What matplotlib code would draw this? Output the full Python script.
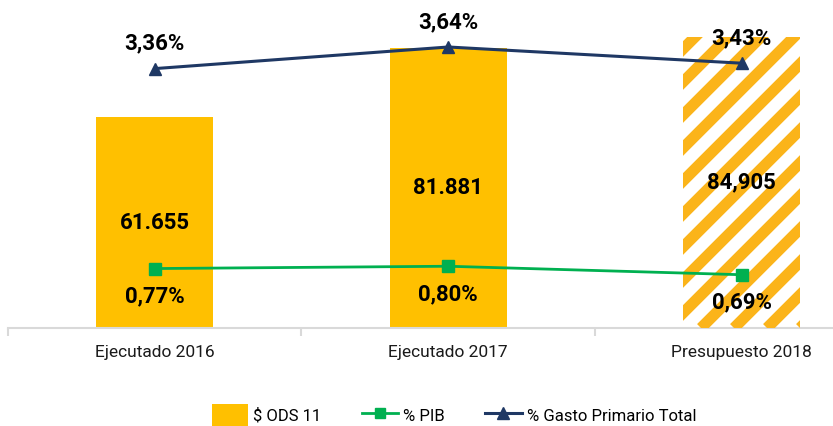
import numpy as np
import matplotlib
matplotlib.use("Agg")
import matplotlib.pyplot as plt
from matplotlib.patches import Patch
from matplotlib.lines import Line2D

plt.rcParams['font.family'] = ['Roboto', 'DejaVu Sans']

categories = ["Ejecutado 2016", "Ejecutado 2017", "Presupuesto 2018"]
ods_values = [61655, 81881, 84905]
ods_labels = ["61.655", "81.881", "84,905"]
pib_pct = [0.77, 0.80, 0.69]
gasto_pct = [3.36, 3.64, 3.43]

GOLD = '#FFC000'
STRIPE = '#FBB41A'
NAVY = '#1F3864'
GREEN = '#00B050'

fig = plt.figure(figsize=(8.33, 4.26), dpi=100)
ax = fig.add_axes([8 / 833, 98 / 426, 825 / 833, 308 / 426])

x = np.arange(len(categories))
bars = ax.bar(x, ods_values, width=0.40, color=GOLD, zorder=2)

# last bar is a budget: white with diagonal gold stripes
last = bars[-1]
last.set_facecolor('white')
for off in np.arange(-1.0, 1.5, 0.04):
    ln = Line2D([off, off + 1.0], [0, 825 / 308], transform=ax.transAxes,
                color=STRIPE, lw=8, solid_capstyle='butt', zorder=3)
    ax.add_line(ln)
    ln.set_clip_path(last)

ax.set_yticks([])
for s in ['top', 'right', 'left']:
    ax.spines[s].set_visible(False)
ax.spines['bottom'].set_color('#D9D9D9')
ax.spines['bottom'].set_linewidth(1.5)
ax.set_xticks(x)
ax.set_xticklabels(categories, fontsize=12.5, color='#1a1a1a')
ax.tick_params(axis='x', which='major', length=0, pad=12)
ax.set_xticks([-0.5, 0.5, 1.5, 2.5], minor=True)
ax.tick_params(axis='x', which='minor', length=6, width=1.5, color='#D9D9D9')

for b, lab in zip(bars, ods_labels):
    ax.text(b.get_x() + b.get_width() / 2, b.get_height() / 2, lab,
            ha='center', va='center', fontsize=16, fontweight='bold',
            color='black', zorder=5)

ax2 = ax.twinx()
ax2.axis('off')
ax2.plot(x, gasto_pct, color=NAVY, lw=2.2, marker='^', ms=9, zorder=4)
ax2.plot(x, pib_pct, color=GREEN, lw=2.0, marker='s', ms=8, zorder=4)

for xi, v in zip(x, gasto_pct):
    ax2.annotate(f"{v:.2f}%".replace('.', ','), (xi, v), xytext=(0, 18),
                 textcoords='offset points', ha='center', va='center',
                 fontsize=16, fontweight='bold', color='black')
for xi, v in zip(x, pib_pct):
    ax2.annotate(f"{v:.2f}%".replace('.', ','), (xi, v), xytext=(0, -20),
                 textcoords='offset points', ha='center', va='center',
                 fontsize=16, fontweight='bold', color='black')

# limits last, the twin plot would autoscale the shared x otherwise
ax.set_xlim(-0.5, 825 / 293.5 - 0.5)
ax.set_ylim(0, 90000)
ax2.set_ylim(0, 308 / 77.2)

handles = [
    Patch(facecolor=GOLD, edgecolor='none'),
    Line2D([], [], color=GREEN, lw=2.0, marker='s', ms=7),
    Line2D([], [], color=NAVY, lw=2.2, marker='^', ms=8),
]
fig.legend(handles, ["$ ODS 11", "% PIB", "% Gasto Primario Total"],
           loc='lower center', bbox_to_anchor=(0.545, -0.035), ncol=3,
           frameon=False, fontsize=12, handlelength=2.2, handleheight=1.6,
           handletextpad=0.3, columnspacing=2.4)

fig.savefig('out.png', dpi=100)
